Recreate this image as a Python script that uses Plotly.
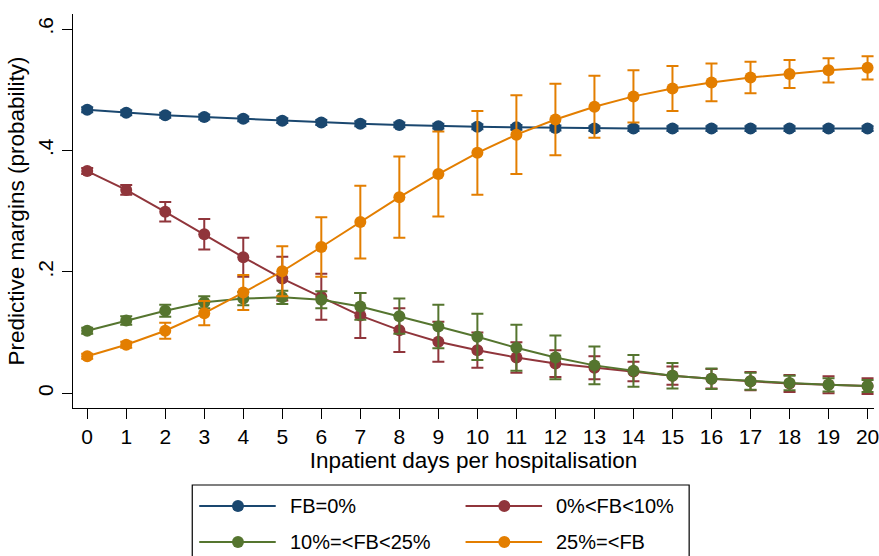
import plotly.graph_objects as go

# ---- data ----
days = list(range(21))
tick_labels_x = [str(d) for d in days]
y_tickvals = [0, 0.2, 0.4, 0.6]
y_ticktext = ["0", ".2", ".4", ".6"]

series_names = ["FB=0%", "0%<FB<10%", "10%=<FB<25%", "25%=<FB"]

fb0 = [0.467, 0.462, 0.458, 0.455, 0.452, 0.449, 0.446, 0.444, 0.442, 0.440, 0.439,
       0.438, 0.437, 0.436, 0.436, 0.436, 0.436, 0.436, 0.436, 0.436, 0.436]
fb0_err = [0.004, 0.004, 0.004, 0.004, 0.004, 0.004, 0.004, 0.004, 0.004, 0.004, 0.004,
           0.004, 0.004, 0.004, 0.004, 0.004, 0.004, 0.004, 0.004, 0.004, 0.004]

fb_lt10 = [0.366, 0.335, 0.299, 0.262, 0.224, 0.189, 0.159, 0.128, 0.104, 0.085, 0.071,
           0.059, 0.049, 0.042, 0.036, 0.029, 0.024, 0.020, 0.016, 0.014, 0.012]
fb_lt10_err = [0.005, 0.008, 0.016, 0.025, 0.032, 0.036, 0.038, 0.037, 0.036, 0.033, 0.029,
               0.025, 0.022, 0.019, 0.016, 0.015, 0.016, 0.015, 0.014, 0.014, 0.013]

fb_10_25 = [0.103, 0.120, 0.136, 0.150, 0.156, 0.158, 0.154, 0.143, 0.127, 0.110, 0.093,
            0.075, 0.059, 0.046, 0.037, 0.029, 0.024, 0.020, 0.017, 0.014, 0.012]
fb_10_25_err = [0.005, 0.007, 0.010, 0.010, 0.011, 0.011, 0.014, 0.022, 0.029, 0.036, 0.038,
                0.038, 0.036, 0.031, 0.026, 0.021, 0.017, 0.014, 0.012, 0.011, 0.010]

fb_ge25 = [0.061, 0.080, 0.103, 0.132, 0.166, 0.201, 0.241, 0.282, 0.323, 0.361, 0.396,
           0.426, 0.451, 0.472, 0.489, 0.502, 0.512, 0.520, 0.526, 0.532, 0.536]
fb_ge25_err = [0.004, 0.005, 0.013, 0.020, 0.029, 0.041, 0.049, 0.060, 0.067, 0.070, 0.069,
               0.065, 0.059, 0.051, 0.043, 0.037, 0.031, 0.026, 0.023, 0.020, 0.019]

colors = ["#1a476f", "#90353b", "#55752f", "#e37e00"]
values = [fb0, fb_lt10, fb_10_25, fb_ge25]
errors = [fb0_err, fb_lt10_err, fb_10_25_err, fb_ge25_err]

FONT = "Liberation Sans, Arial, sans-serif"
W, H = 879, 556
ML, MR, MT, MB = 73, 0, 14, 148
PW, PH = W - ML - MR, H - MT - MB

fig = go.Figure()
for name, v, e, c in zip(series_names, values, errors, colors):
    fig.add_trace(go.Scatter(
        x=days, y=v, name=name, mode="lines+markers",
        line=dict(color=c, width=2),
        marker=dict(color=c, size=12),
        error_y=dict(type="data", array=e, visible=True, color=c, thickness=2, width=6),
        showlegend=False, cliponaxis=False,
    ))

# ---- custom legend (Stata style box, 2 columns) ----
def px_x(p):
    return (p - ML) / PW

def px_y(p):
    return (H - MB - p) / PH

shapes = [dict(type="rect", xref="paper", yref="paper",
               x0=px_x(193), x1=px_x(693), y0=px_y(575), y1=px_y(485),
               line=dict(color="black", width=1.2), fillcolor="white", layer="above")]
annotations = []
legend_pos = [(200, 506), (468, 506), (200, 542), (468, 542)]
for name, c, (lx, ly) in zip(series_names, colors, legend_pos):
    shapes.append(dict(type="line", xref="paper", yref="paper",
                       x0=px_x(lx), x1=px_x(lx + 77), y0=px_y(ly), y1=px_y(ly),
                       line=dict(color=c, width=2), layer="above"))
    shapes.append(dict(type="circle", xref="paper", yref="paper",
                       xsizemode="pixel", ysizemode="pixel",
                       xanchor=px_x(lx + 39), yanchor=px_y(ly),
                       x0=-6, x1=6, y0=-6, y1=6,
                       fillcolor=c, line=dict(color=c, width=0), layer="above"))
    annotations.append(dict(xref="paper", yref="paper", x=px_x(lx + 89), y=px_y(ly),
                            text=name, showarrow=False, xanchor="left", yanchor="middle",
                            font=dict(family=FONT, size=20, color="black")))

fig.update_layout(
    width=W, height=H,
    margin=dict(l=ML, r=MR, t=MT, b=MB, pad=0),
    paper_bgcolor="white", plot_bgcolor="white",
    font=dict(family=FONT, size=21, color="black"),
    shapes=shapes, annotations=annotations,
    xaxis=dict(
        range=[-0.364, 20.165], tickvals=days, ticktext=tick_labels_x,
        ticklabeloverflow="allow",
        showgrid=False, zeroline=False, showline=True, linecolor="black", linewidth=1.3,
        ticks="outside", ticklen=10, tickwidth=1.3, tickcolor="black",
        tickfont=dict(family=FONT, size=21, color="black"),
        title=dict(text="Inpatient days per hospitalisation", standoff=1,
                   font=dict(family=FONT, size=22.5, color="black")),
    ),
    yaxis=dict(
        range=[-0.0242, 0.6247], tickvals=y_tickvals, ticktext=y_ticktext, tickangle=-90,
        showgrid=False, zeroline=False, showline=True, linecolor="black", linewidth=1.3,
        ticks="outside", ticklen=10, tickwidth=1.3, tickcolor="black",
        tickfont=dict(family=FONT, size=21, color="black"),
        title=dict(text="Predictive margins (probability)", standoff=3,
                   font=dict(family=FONT, size=22.5, color="black")),
    ),
)

fig.write_html("out.html")
